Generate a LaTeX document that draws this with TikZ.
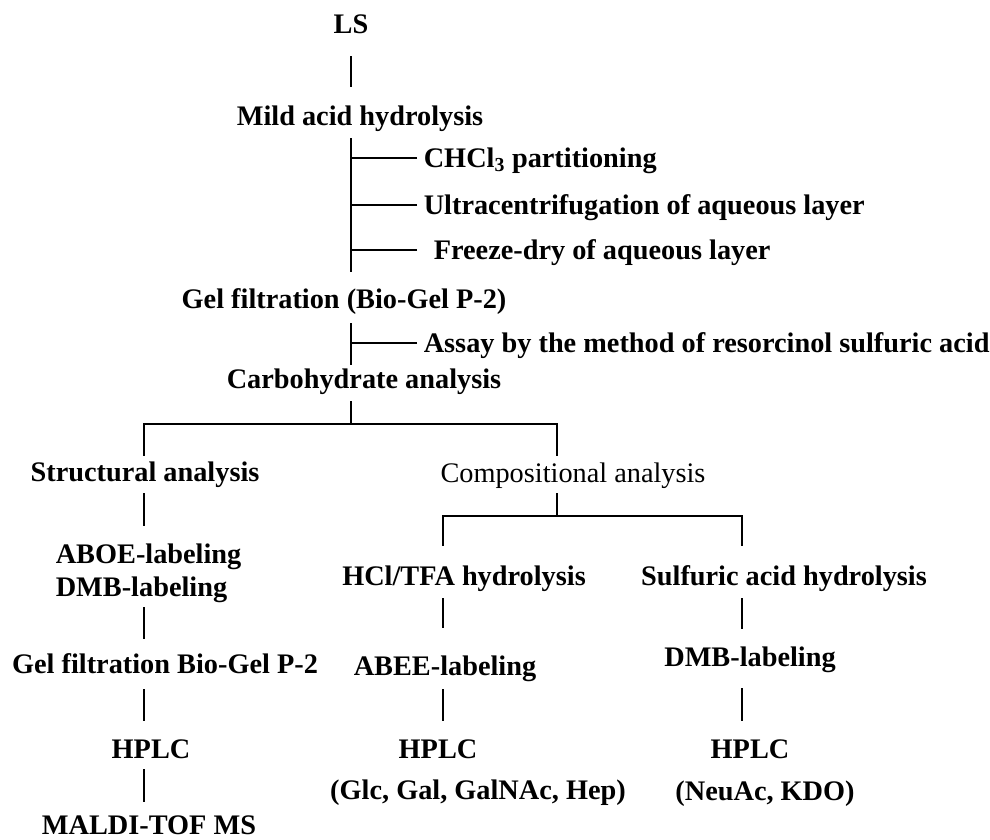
\documentclass[tikz,border=0pt]{standalone}
\usepackage{fontspec}
\setmainfont{Liberation Serif}

\begin{document}
\begin{tikzpicture}[x = 1pt, y = -1pt, line width = 1.6pt,
	stage/.style = {font = \bfseries\fontsize{28.3}{34}\selectfont, inner sep = 0pt, text height = 18.5pt, text depth = 0pt},
	plain/.style = {stage, font = \fontsize{28.3}{34}\selectfont},
	link/.style 2 args = {shorten <= #1pt, shorten >= #2pt}]
	\useasboundingbox (0,0) rectangle (990,839);
	\node[stage] (ls) at (351,24) {LS};
	\node[stage] (mild) at (360,116) {Mild acid hydrolysis};
	\node[stage, anchor = west] (chcl) at (423,158) {CHCl\textsubscript{3} partitioning};
	\node[stage, anchor = west] (ultra) at (423,205) {Ultracentrifugation of aqueous layer};
	\node[stage, anchor = west] (freeze) at (433,250) {Freeze-dry of aqueous layer};
	\node[stage] (gelf) at (344,299) {Gel filtration (Bio-Gel P-2)};
	\node[stage, anchor = west] (assay) at (423,343) {Assay by the method of resorcinol sulfuric acid};
	\node[stage] (carb) at (364,379) {Carbohydrate analysis};
	\draw[link = {22}{19}] (ls.south) -- (ls.south |- mild.north);
	\draw[link = {12}{17}] (mild.south -| ls) -- (gelf.north -| ls);
	\draw[shorten <= 6pt] (chcl.west) -- (chcl.west -| ls);
	\draw[shorten <= 6pt] (ultra.west) -- (ultra.west -| ls);
	\draw[shorten <= 16pt] (freeze.west) -- (freeze.west -| ls);
	\draw[link = {14}{4}] (gelf.south -| ls) -- (carb.north -| ls);
	\draw[shorten <= 6pt] (assay.west) -- (assay.west -| ls);

	\coordinate (split) at (351,424);
	\coordinate (lcol) at (144,424);
	\coordinate (rcol) at (557,424);
	\node[stage] (struct) at (145,472) {Structural analysis};
	\node[plain] (comp) at (573,473) {Compositional analysis};
	\draw[shorten <= 12pt] (carb.south -| ls) -- (split);
	\draw[link = {6}{7}] (struct.north -| lcol) -- (lcol) -- (rcol) -- (comp.north -| rcol);

	\node[stage, anchor = west] (aboe) at (55,554) {ABOE-labeling};
	\node[stage, anchor = west] (dmbA) at (55,587) {DMB-labeling};
	\node[stage] (gelbio) at (165,664) {Gel filtration Bio-Gel P-2};
	\node[stage] (hplcA) at (151,749) {HPLC};
	\node[stage] (maldi) at (149,825) {MALDI-TOF MS};
	\draw[link = {11}{18}] (struct.south -| lcol) -- (aboe.north -| lcol);
	\draw[link = {10}{15}] (dmbA.south -| lcol) -- (gelbio.north -| lcol);
	\draw[link = {15}{18}] (gelbio.south -| lcol) -- (hplcA.north -| lcol);
	\draw[link = {10}{13}] (hplcA.south -| lcol) -- (maldi.north -| lcol);

	\coordinate (mcol) at (443,516);
	\coordinate (ccol) at (742,516);
	\node[stage] (hcl) at (464,576) {HCl/TFA hydrolysis};
	\node[stage] (abee) at (445,666) {ABEE-labeling};
	\node[stage] (hplcB) at (438,749) {HPLC};
	\node[stage] (monoB) at (478,790) {(Glc, Gal, GalNAc, Hep)};
	\node[stage] (sulf) at (784,576) {Sulfuric acid hydrolysis};
	\node[stage] (dmb) at (750,657) {DMB-labeling};
	\node[stage] (hplcC) at (750,749) {HPLC};
	\node[stage] (monoC) at (765,791) {(NeuAc, KDO)};
	\draw[shorten <= 10pt] (comp.south -| rcol) -- (rcol |- mcol);
	\draw[link = {20}{20}] (hcl.north -| mcol) -- (mcol) -- (ccol) -- (sulf.north -| ccol);
	\draw[link = {12}{28}] (hcl.south -| mcol) -- (abee.north -| mcol);
	\draw[link = {13}{18}] (abee.south -| mcol) -- (hplcB.north -| mcol);
	\draw[link = {12}{18}] (sulf.south -| ccol) -- (dmb.north -| ccol);
	\draw[link = {21}{18}] (dmb.south -| ccol) -- (hplcC.north -| ccol);
\end{tikzpicture}
\end{document}
